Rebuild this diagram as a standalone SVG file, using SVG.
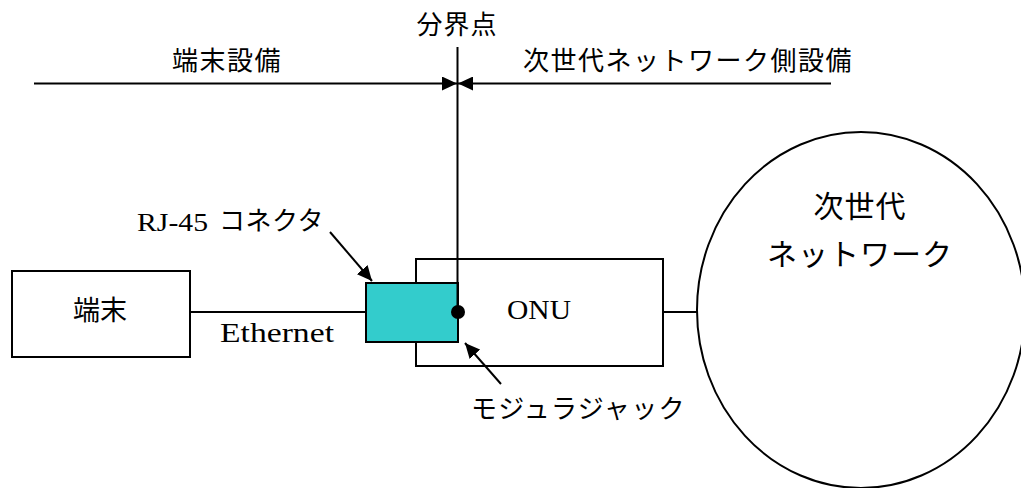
<svg xmlns="http://www.w3.org/2000/svg" width="1021" height="488" viewBox="0 0 1021 488">
<style>
.cjk{font-family:"Noto Sans CJK JP","Noto Sans",sans-serif;fill:#000}
.ser{font-family:"Liberation Serif","Noto Sans CJK JP",serif;fill:#000}
.box{fill:#fff;stroke:#000;stroke-width:2}
.ln{stroke:#000;stroke-width:2;fill:none}
</style>
<defs>
<marker id="ah" markerWidth="16" markerHeight="14" refX="15" refY="7" orient="auto" markerUnits="userSpaceOnUse">
<path d="M0,0 L15,7 L0,14 Z" fill="#000"/>
</marker>
</defs>
<rect width="1021" height="488" fill="#fff"/>
<g id="labels">
<text class="cjk" x="457" y="34" font-size="26" text-anchor="middle" letter-spacing="1">分界点</text>
<text class="cjk" x="227" y="70" font-size="26" text-anchor="middle" letter-spacing="1.5">端末設備</text>
<text class="cjk" x="688" y="70" font-size="26" text-anchor="middle" letter-spacing="1.5">次世代ネットワーク側設備</text>
<text class="ser" x="137" y="231" font-size="26" textLength="71" lengthAdjust="spacingAndGlyphs">RJ-45</text>
<text class="cjk" x="219" y="230" font-size="26" letter-spacing="0.5">コネクタ</text>
<text class="ser" x="220" y="342" font-size="27" textLength="114" lengthAdjust="spacingAndGlyphs">Ethernet</text>
<text class="cjk" x="471" y="418" font-size="26" letter-spacing="1.3">モジュラジャック</text>
</g>
<g id="terminal">
<rect class="box" x="12" y="271" width="178" height="86"/>
<text class="cjk" x="100" y="320" font-size="27" text-anchor="middle">端末</text>
</g>
<g id="onu">
<rect class="box" x="416" y="259" width="247" height="107"/>
<text class="ser" x="507" y="319" font-size="28" textLength="64" lengthAdjust="spacingAndGlyphs">ONU</text>
</g>
<g id="rj45">
<rect x="366" y="283" width="92" height="59" fill="#33CCCC" stroke="#000" stroke-width="2"/>
</g>
<g id="network">
<ellipse class="box" cx="861" cy="310" rx="164" ry="178"/>
<text class="cjk" x="860" y="217" font-size="30" text-anchor="middle" letter-spacing="1">次世代</text>
<text class="cjk" x="860" y="265" font-size="30" text-anchor="middle" letter-spacing="1">ネットワーク</text>
</g>
<g id="connectors">
<line class="ln" x1="34" y1="83.5" x2="457" y2="83.5" marker-end="url(#ah)"/>
<line class="ln" x1="831" y1="83.5" x2="458" y2="83.5" marker-end="url(#ah)"/>
<line class="ln" x1="457.5" y1="47" x2="457.5" y2="312" stroke-width="1.6"/>
<line class="ln" x1="190" y1="312" x2="366" y2="312" stroke-width="1.6"/>
<line class="ln" x1="663" y1="312" x2="697" y2="312" stroke-width="1.6"/>
<line class="ln" x1="330" y1="232" x2="372" y2="281" marker-end="url(#ah)"/>
<line class="ln" x1="501" y1="384" x2="465" y2="343" marker-end="url(#ah)"/>
<circle cx="458" cy="312" r="7" fill="#000"/>
</g>
</svg>
